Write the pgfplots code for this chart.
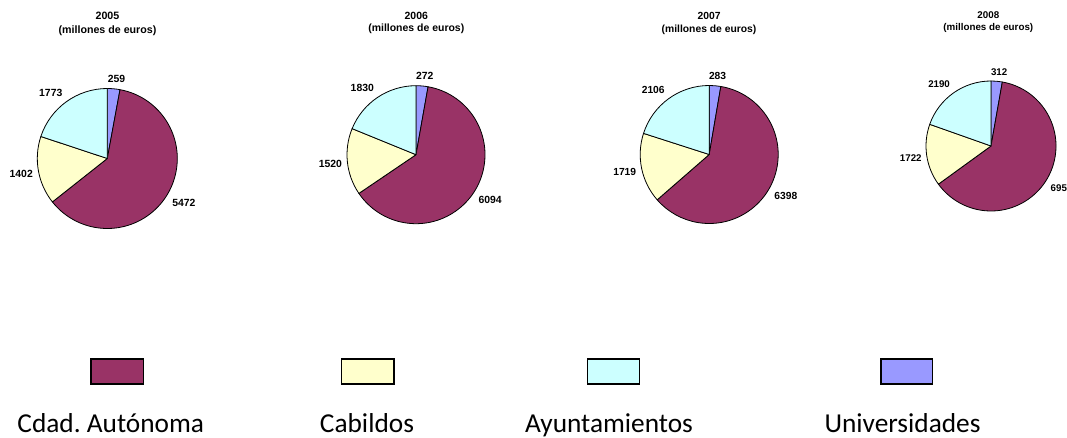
\documentclass[border=0pt]{standalone}
\usepackage{pgfplots}
\pgfplotsset{compat=1.18}
\usepackage{fontspec}
\setmainfont{Liberation Sans}
\newfontfamily\legfont{Carlito}

\definecolor{cdad}{HTML}{993366}
\definecolor{cab}{HTML}{FFFFCC}
\definecolor{ayu}{HTML}{CCFFFF}
\definecolor{univ}{HTML}{9999FF}

% one slice: cx, cy, r, start angle, end angle, colour, value, font
\newcommand{\slice}[8]{%
  \pgfmathsetmacro\xs{#1+#3*cos(#4)}%
  \pgfmathsetmacro\ys{#2+#3*sin(#4)}%
  \pgfmathsetmacro\md{(#4+#5)/2}%
  \pgfmathsetmacro\sc{#3/70}%
  \pgfmathsetmacro\hw{(#7>=1000 ? 13.2 : 10.2)*\sc}%
  \pgfmathsetmacro\fx{max(-1,min(1,2.6*cos(\md)))}%
  \pgfmathsetmacro\fy{max(-1,min(1,2.6*sin(\md)))}%
  \pgfmathsetmacro\xl{#1+(#3+4*\sc)*cos(\md)+\hw*\fx}%
  \pgfmathsetmacro\yl{#2+(#3+4*\sc)*sin(\md)+6*\sc*\fy}%
  \filldraw[fill=#6, draw=black, line width=0.6pt, line join=round]
    (axis cs:#1,#2) -- (axis cs:\xs,\ys)
    arc[start angle=#4, end angle=#5, radius=#3*0.75pt] -- cycle;
  \node[anchor=center, inner sep=0pt, font=#8] at (axis cs:\xl,\yl) {#7};
}

% pie: x, y (picture pixels from top), radius, universidades, cdad, cabildos, ayuntamientos, font
\newcommand{\pie}[8]{%
  \pgfmathsetmacro\cy{438-#2}%
  \pgfmathsetmacro\tot{#4+#5+#6+#7}%
  \pgfmathsetmacro\aB{90-360*(#4/\tot)}%
  \pgfmathsetmacro\aC{\aB-360*(#5/\tot)}%
  \pgfmathsetmacro\aD{\aC-360*(#6/\tot)}%
  \slice{#1}{\cy}{#3}{90}{\aB}{univ}{#4}{#8}%
  \slice{#1}{\cy}{#3}{\aB}{\aC}{cdad}{#5}{#8}%
  \slice{#1}{\cy}{#3}{\aC}{\aD}{cab}{#6}{#8}%
  \slice{#1}{\cy}{#3}{\aD}{-270}{ayu}{#7}{#8}%
}

\begin{document}
\frenchspacing
\begin{tikzpicture}
\begin{axis}[
    scale only axis,
    width=800.25pt, height=328.5pt,
    xmin=0, xmax=1067, ymin=0, ymax=438,
    axis lines=none,
    clip=true,
]
\pgfplotsextra{\pie{107.3}{158.5}{70}{259}{5472}{1402}{1773}{\bfseries\fontsize{7.8}{9}\selectfont}}
\pgfplotsextra{\pie{416}{154.7}{69}{272}{6094}{1520}{1830}{\bfseries\fontsize{7.8}{9}\selectfont}}
\pgfplotsextra{\pie{709.2}{154.5}{69}{283}{6398}{1719}{2106}{\bfseries\fontsize{7.7}{9}\selectfont}}
\pgfplotsextra{\pie{991}{146}{65}{312}{6957}{1722}{2190}{\bfseries\fontsize{7.3}{9}\selectfont}}

\node[align=center, font=\bfseries\fontsize{8}{10.5}\selectfont] at (axis cs:107.5,414.5) {2005\\(millones de euros)};
\node[align=center, font=\bfseries\fontsize{7.85}{9.3}\selectfont] at (axis cs:416.3,414.8) {2006\\(millones de euros)};
\node[align=center, font=\bfseries\fontsize{7.75}{10}\selectfont] at (axis cs:709,414.3) {2007\\(millones de euros)};
\node[align=center, font=\bfseries\fontsize{7.35}{9.5}\selectfont] at (axis cs:988.3,416) {2008\\(millones de euros)};

% legend
\filldraw[fill=cdad, draw=black, line width=1pt] (axis cs:91,79) rectangle (axis cs:143.3,54);
\filldraw[fill=cab, draw=black, line width=1pt] (axis cs:341.7,79) rectangle (axis cs:394,54);
\filldraw[fill=ayu, draw=black, line width=1pt] (axis cs:587.7,79) rectangle (axis cs:639.3,54);
\filldraw[fill=univ, draw=black, line width=1pt] (axis cs:881,79) rectangle (axis cs:932.7,54);
\node[anchor=base, inner sep=0pt, font=\legfont\fontsize{20.5}{24}\selectfont] at (axis cs:110.8,5) {Cdad. Autónoma};
\node[anchor=base, inner sep=0pt, font=\legfont\fontsize{20.5}{24}\selectfont] at (axis cs:367,5) {Cabildos};
\node[anchor=base, inner sep=0pt, font=\legfont\fontsize{20.5}{24}\selectfont] at (axis cs:609,5) {Ayuntamientos};
\node[anchor=base, inner sep=0pt, font=\legfont\fontsize{20.5}{24}\selectfont] at (axis cs:902.5,5) {Universidades};
\end{axis}
\pgfresetboundingbox
\path (0,0) rectangle (800.25pt,328.5pt);
\end{tikzpicture}
\end{document}
